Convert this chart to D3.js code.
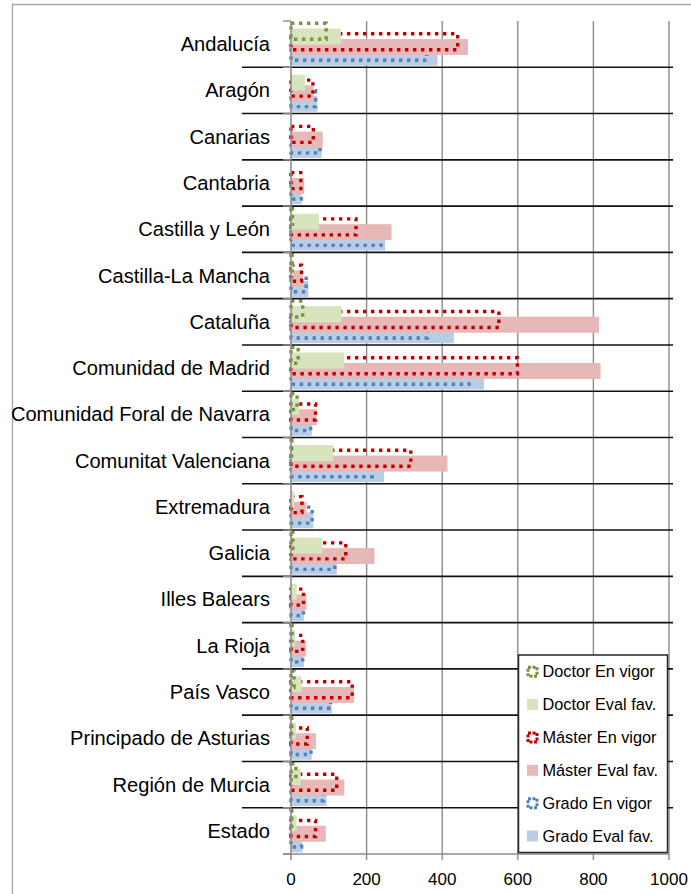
<!DOCTYPE html>
<html>
<head>
<meta charset="utf-8">
<script src="https://cdn.jsdelivr.net/npm/d3@7"></script>
<style>
  html, body { margin: 0; padding: 0; background: #fff; }
  svg { display: block; }
  text { font-family: "Liberation Sans", Arial, sans-serif; fill: #000; }
</style>
</head>
<body>
<svg id="chart" width="691" height="894"></svg>
<script>
const categories = ["Andalucía","Aragón","Canarias","Cantabria","Castilla y León","Castilla-La Mancha","Cataluña","Comunidad de Madrid","Comunidad Foral de Navarra","Comunitat Valenciana","Extremadura","Galicia","Illes Balears","La Rioja","País Vasco","Principado de Asturias","Región de Murcia","Estado"];
const doctorEnVigor  = [93, 0, 0, 0, 4, 3, 31, 19, 16, 2, 0, 5, 0, 3, 8, 2, 13, 2];
const doctorEvalFav  = [132, 37, 0, 0, 74, 6, 134, 141, 22, 112, 8, 83, 15, 11, 28, 13, 26, 15];
const masterEnVigor  = [441, 58, 59, 26, 172, 28, 550, 599, 65, 317, 29, 145, 33, 31, 162, 43, 121, 65];
const masterEvalFav  = [468, 60, 84, 35, 266, 31, 815, 819, 68, 414, 41, 221, 41, 40, 167, 66, 141, 92];
const gradoEnVigor   = [359, 65, 77, 27, 238, 40, 361, 471, 52, 215, 56, 116, 33, 31, 105, 53, 86, 28];
const gradoEvalFav   = [388, 70, 81, 28, 249, 46, 431, 511, 55, 246, 59, 121, 34, 34, 108, 55, 94, 30];
const xTicks = [0, 200, 400, 600, 800, 1000];

const seriesNames = ["Doctor En vigor","Doctor Eval fav.","Máster En vigor","Máster Eval fav.","Grado En vigor","Grado Eval fav."];
const seriesValues = [doctorEnVigor, doctorEvalFav, masterEnVigor, masterEvalFav, gradoEnVigor, gradoEvalFav];
const seriesStyle = [
  {type: "dot",  color: "#77933C"},
  {type: "fill", color: "#D7E4BD"},
  {type: "dot",  color: "#C00000"},
  {type: "fill", color: "#E6B9B8"},
  {type: "dot",  color: "#4F81BD"},
  {type: "fill", color: "#B9CDE5"}
];

const svg = d3.select("#chart");
const x = d3.scaleLinear().domain([0, 1000]).range([291, 669]);
const y = d3.scaleBand().domain(categories).range([21, 854]).padding(0);
const barH = 16;
const offset = d3.scaleLinear().domain([0, 5]).range([2.3, 2.3 + 26.25]);
const gridColor = "#8c8c8c";

// outer frame
svg.append("path").attr("d", "M12.5,894 V4.5 H691")
  .attr("fill", "none").attr("stroke", "#a6a6a6").attr("stroke-width", 1.3);

// vertical gridlines
svg.append("g").selectAll("line").data(xTicks.slice(1)).join("line")
  .attr("x1", d => x(d)).attr("x2", d => x(d))
  .attr("y1", 21).attr("y2", 860)
  .attr("stroke", gridColor).attr("stroke-width", 1.4);

// bars: draw bottom series first
const order = [5, 4, 3, 2, 1, 0];
order.forEach(si => {
  const st = seriesStyle[si];
  const g = svg.append("g");
  const data = categories.map((c, i) => ({c, v: seriesValues[si][i]})).filter(d => d.v > 0);
  if (st.type === "fill") {
    g.selectAll("rect").data(data).join("rect")
      .attr("x", x(0)).attr("y", d => y(d.c) + offset(si))
      .attr("width", d => x(d.v) - x(0)).attr("height", barH)
      .attr("fill", st.color);
  } else {
    g.selectAll("rect").data(data).join("rect")
      .attr("x", x(0)).attr("y", d => y(d.c) + offset(si))
      .attr("width", d => x(d.v) - x(0)).attr("height", barH)
      .attr("fill", "none").attr("stroke", st.color)
      .attr("stroke-width", 3.4).attr("stroke-dasharray", "3.4 4.6");
  }
});

// category separator lines
const bounds = categories.slice(1).map(c => y(c));
svg.append("g").selectAll("line").data(bounds).join("line")
  .attr("x1", 242).attr("x2", 673).attr("y1", d => d).attr("y2", d => d)
  .attr("stroke", "#111").attr("stroke-width", 1.6);

// left axis line and category ticks
svg.append("line").attr("x1", x(0)).attr("x2", x(0)).attr("y1", 21).attr("y2", 860)
  .attr("stroke", gridColor).attr("stroke-width", 1.6);
const tickYs = categories.map(c => y(c)).concat([y.range()[1]]);
svg.append("g").selectAll("line").data(tickYs).join("line")
  .attr("x1", 283).attr("x2", x(0)).attr("y1", d => d).attr("y2", d => d)
  .attr("stroke", gridColor).attr("stroke-width", 1.4);

// bottom axis
svg.append("line").attr("x1", 283).attr("x2", x(1000)).attr("y1", 854).attr("y2", 854)
  .attr("stroke", gridColor).attr("stroke-width", 1.6);
svg.append("g").selectAll("text").data(xTicks).join("text")
  .attr("x", d => x(d)).attr("y", 885).attr("text-anchor", "middle")
  .attr("font-size", 17).text(d => d);

// category labels
svg.append("g").selectAll("text").data(categories).join("text")
  .attr("x", 270).attr("y", d => y(d) + y.bandwidth() / 2 + 7)
  .attr("text-anchor", "end").attr("font-size", 20.1).text(d => d);

// legend
const lg = svg.append("g");
lg.append("rect").attr("x", 518.5).attr("y", 655).attr("width", 149).attr("height", 197.5)
  .attr("fill", "#fff").attr("stroke", "#262626").attr("stroke-width", 1.5);
const rowY = d3.scaleLinear().domain([0, 5]).range([671.7, 836]);
seriesNames.forEach((name, i) => {
  const st = seriesStyle[i];
  const cy = rowY(i);
  if (st.type === "fill") {
    lg.append("rect").attr("x", 527).attr("y", cy - 5.5).attr("width", 11).attr("height", 11)
      .attr("fill", st.color);
  } else {
    lg.append("rect").attr("x", 528).attr("y", cy - 4.5).attr("width", 9).attr("height", 9)
      .attr("fill", "none").attr("stroke", st.color).attr("stroke-width", 3)
      .attr("stroke-dasharray", "3 1.5");
  }
  lg.append("text").attr("x", 542.5).attr("y", cy + 5.5)
    .attr("font-size", 16.3).text(name);
});
</script>
</body>
</html>
